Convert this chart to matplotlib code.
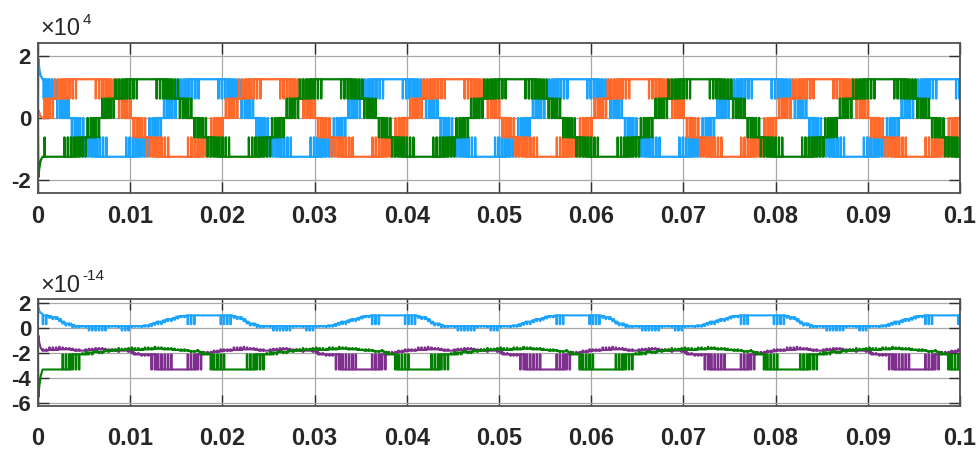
import numpy as np
import matplotlib.pyplot as plt

plt.rcParams['font.family'] = ['Liberation Sans Narrow', 'Liberation Sans', 'DejaVu Sans']
plt.rcParams['axes.unicode_minus'] = False

t_stop = 0.1
period = 0.02
x_ticks = [0, 0.01, 0.02, 0.03, 0.04, 0.05, 0.06, 0.07, 0.08, 0.09, 0.1]
x_labels = ['0', '0.01', '0.02', '0.03', '0.04', '0.05', '0.06', '0.07', '0.08', '0.09', '0.1']

# ---- top panel: phase voltages (x1e4), 5 level stepped wave ----
v_levels = [0.0, 0.62, 1.24]
# switching pattern over one quarter cycle (0..90 deg), 14 carrier slots
quarter_band = [0, 0, 0, 0, 1, 1, 1, 1, 1, 1, 1, 1, 1, 1]
quarter_duty = [0.12, 0.35, 0.58, 0.80, 0.03, 0.21, 0.40, 0.57, 0.71, 0.84, 0.94, 1.0, 1.0, 1.0]
phase_delay = [0.0135, 0.0002, 0.0068]  # rising zero crossing of each phase
top_colors = ['#1AA3FF', '#FF6A2B', '#007F00']
start_t = [0.0, 0.00004, 0.00015, 0.0003, 0.0005]
start_top = [[0.0, 1.9, 1.55, 1.35, 1.24],
             [0.0, 0.25, 0.15, 0.05, 0.0],
             [0.0, -1.9, -1.6, -1.35, -1.24]]

# ---- bottom panel: residual (x1e-14), 40 steps of 0.5 ms per period ----
blue_base = [1.0, 1.0, 0.95, 0.85, 0.7, 0.5, 0.35, 0.25, 0.15, 0.15,
             0.15, 0.15, 0.15, 0.15, 0.15, 0.15, 0.15, 0.15, 0.15, 0.15,
             0.15, 0.15, 0.15, 0.2, 0.3, 0.4, 0.5, 0.6, 0.7, 0.8,
             0.9, 0.95, 1.0, 1.0, 1.0, 1.0, 1.0, 1.0, 1.0, 1.0]
blue_pulse = [0.3, 0.3, 0.8, 0.7, 0.55, 0.35, 0.2, 0.05, 0.05, 0.1,
              0.05, -0.2, -0.2, -0.2, -0.2, 0.05, 0.1, 0.05, -0.2, -0.2,
              0.05, 0.1, 0.05, 0.1, 0.15, 0.25, 0.3, 0.45, 0.55, 0.65,
              0.75, 0.85, 0.3, 0.3, 1.0, 1.0, 1.0, 1.0, 1.0, 0.3]
purple_base = [-1.8, -1.8, -1.75, -1.75, -1.7, -1.7, -1.7, -1.75, -1.8, -1.8,
               -1.8, -1.75, -1.75, -1.7, -1.75, -1.75, -1.8, -1.8, -1.8, -1.8,
               -1.85, -2.1, -2.1, -2.1, -2.1, -2.1, -3.3, -3.3, -3.3, -3.3,
               -3.3, -3.3, -3.3, -3.3, -2.1, -2.1, -2.05, -2.0, -1.9, -1.85]
purple_pulse = [-1.7, -1.7, -1.55, -1.55, -1.5, -1.55, -1.6, -1.65, -1.7, -1.8,
                -1.7, -1.65, -1.6, -1.6, -1.65, -1.7, -1.7, -1.9, -1.8, -1.9,
                -2.0, -2.0, -2.2, -2.2, -3.3, -3.3, -2.1, -2.1, -2.1, -3.3,
                -3.3, -3.3, -2.1, -2.1, -3.3, -3.3, -1.9, -1.9, -1.8, -1.7]
green_base = [-3.3, -3.3, -3.3, -3.3, -3.3, -3.3, -3.3, -2.1, -2.1, -2.1,
              -2.1, -1.95, -1.9, -1.9, -1.85, -1.8, -1.8, -1.75, -1.75, -1.7,
              -1.7, -1.75, -1.75, -1.7, -1.7, -1.65, -1.65, -1.7, -1.7, -1.75,
              -1.75, -1.8, -1.8, -1.85, -1.85, -1.9, -2.1, -2.1, -3.3, -3.3]
green_pulse = [-2.1, -3.3, -3.3, -3.3, -3.3, -2.1, -2.1, -3.3, -3.3, -2.0,
               -1.9, -2.1, -1.8, -2.0, -1.75, -1.9, -1.7, -1.6, -1.65, -1.6,
               -1.55, -1.6, -1.65, -1.55, -1.6, -1.5, -1.55, -1.6, -1.6, -1.65,
               -1.7, -1.7, -1.75, -1.9, -1.75, -2.0, -2.0, -3.3, -2.1, -2.1]
bot_colors = ['#1AA3FF', '#7E2F8E', '#007F00']
start_bot = [[0.5, 1.6, 1.35, 1.2, 1.1],
             [-1.2, -0.6, -1.2, -1.6, -1.8],
             [-1.5, -5.5, -4.6, -3.8, -3.3]]
bot_slots = 56  # carrier slots per period for the bottom traces


def pulse_points(t0, tc, lo, hi, d):
    if d <= 0:
        return [t0, t0 + tc], [lo, lo]
    if d >= 1:
        return [t0, t0 + tc], [hi, hi]
    a = t0 + (1 - d) / 2 * tc
    b = t0 + (1 + d) / 2 * tc
    return [t0, a, a, b, b, t0 + tc], [lo, lo, hi, hi, lo, lo]


def top_trace(delay):
    band = quarter_band + quarter_band[::-1]
    duty = quarter_duty + quarter_duty[::-1]
    n = len(band)
    tc = period / (2 * n)
    t, v = [], []
    for k in range(int(np.floor(-delay / tc)) - 1, int(np.ceil((t_stop - delay) / tc)) + 1):
        idx = k % (2 * n)
        s = 1 if idx < n else -1
        j = idx % n
        tt, vv = pulse_points(delay + k * tc, tc, s * v_levels[band[j]],
                              s * v_levels[band[j] + 1], duty[j])
        t += tt
        v += vv
    return np.array(t), np.array(v)


def bot_trace(base, pulse, d=0.2):
    step = period / len(base)
    tc = period / bot_slots
    t, v = [], []
    for k in range(int(round(t_stop / tc))):
        t0 = k * tc
        j = int(((t0 + tc / 2) % period) // step)
        tt, vv = pulse_points(t0, tc, base[j], pulse[j], d)
        t += tt
        v += vv
    return np.array(t), np.array(v)


def add_start(t, v, sv):
    keep = t >= start_t[-1]
    return np.concatenate([start_t, t[keep]]), np.concatenate([sv, v[keep]])


fig = plt.figure(figsize=(9.79, 4.57), dpi=100)
ax1 = fig.add_axes([0.0388, 0.5777, 0.9418, 0.3282])
ax2 = fig.add_axes([0.0388, 0.1116, 0.9418, 0.2341])

for i in range(3):
    t, v = top_trace(phase_delay[i])
    t, v = add_start(t, v, start_top[i])
    ax1.plot(t, v, color=top_colors[i], lw=1.6)

for base, pulse, sv, c in zip([blue_base, purple_base, green_base],
                              [blue_pulse, purple_pulse, green_pulse],
                              start_bot, bot_colors):
    t, v = bot_trace(base, pulse)
    t, v = add_start(t, v, sv)
    ax2.plot(t, v, color=c, lw=1.5)

ax1.set_ylim(-2.4, 2.4)
ax1.set_yticks([-2, 0, 2])
ax2.set_ylim(-6.2, 2.3)
ax2.set_yticks([-6, -4, -2, 0, 2])

for ax, pad in [(ax1, 9), (ax2, 15)]:
    ax.set_xlim(0, t_stop)
    ax.set_xticks(x_ticks)
    ax.set_xticklabels(x_labels)
    ax.grid(True, color='#a8a8a8', lw=0.9)
    ax.set_axisbelow(True)
    ax.tick_params(direction='in', top=True, right=True, length=8, width=1.0, color='#303030')
    ax.tick_params(axis='x', labelsize=17, pad=pad)
    ax.tick_params(axis='y', labelsize=16, pad=5)
    for lab in ax.get_xticklabels() + ax.get_yticklabels():
        lab.set_fontweight('bold')
        lab.set_color('#262626')
    for sp in ax.spines.values():
        sp.set_color('#505050')
        sp.set_linewidth(1.3)

# axis multipliers
fig.text(40 / 979, 1 - 35 / 457, '\u00d710', fontsize=17, family='Liberation Sans',
         color='#262626', va='baseline')
fig.text(83 / 979, 1 - 24 / 457, '4', fontsize=11, family='Liberation Sans',
         color='#262626', va='baseline')
fig.text(40 / 979, 1 - 292 / 457, '\u00d710', fontsize=17, family='Liberation Sans',
         color='#262626', va='baseline')
fig.text(82 / 979, 1 - 280 / 457, '-14', fontsize=11, family='Liberation Sans',
         color='#262626', va='baseline')

fig.savefig('out.png', dpi=100)
